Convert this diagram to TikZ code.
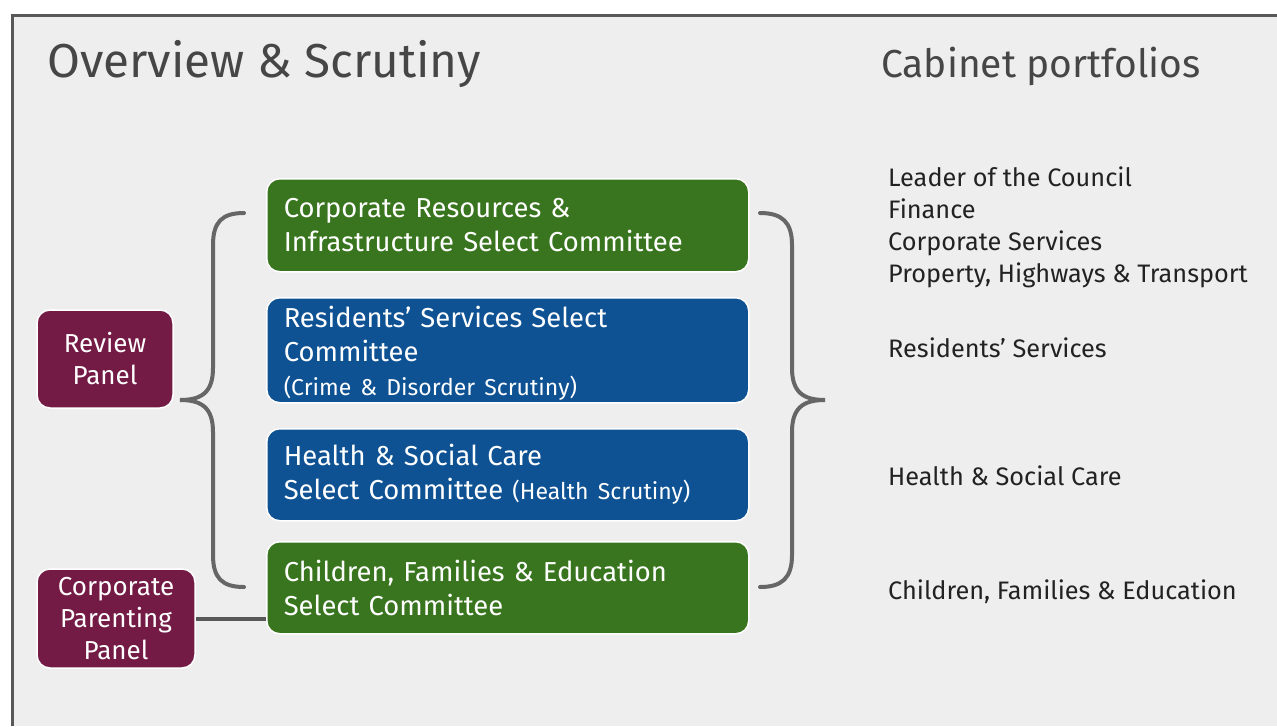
\documentclass[tikz,border=0pt]{standalone}
\usepackage{fontspec}
\setmainfont{Fira Sans}
\usepackage{xcolor}
\definecolor{selectgreen}{RGB}{56,117,30}
\definecolor{selectblue}{RGB}{14,82,148}
\definecolor{panelplum}{RGB}{115,27,69}
\definecolor{framegrey}{RGB}{88,88,88}
\definecolor{backgrey}{RGB}{238,238,238}
\definecolor{bracegrey}{RGB}{102,102,102}
\definecolor{inkgrey}{RGB}{34,34,34}
\definecolor{titlegrey}{RGB}{70,70,70}
\usetikzlibrary{positioning}
\tikzset{
  committee/.style={rectangle, rounded corners=13pt, draw=white, line width=1.5pt,
    anchor=north west, text=white, align=left, inner xsep=17pt, inner ysep=0pt,
    minimum width=482pt, text width=448pt, font=\fontsize{27.4}{34}\selectfont},
  panel/.style={rectangle, rounded corners=13pt, draw=white, line width=1.5pt,
    fill=panelplum, text=white, align=center, inner sep=0pt,
    font=\fontsize{26}{32}\selectfont},
  portfolio/.style={anchor=base west, text=inkgrey, inner sep=0pt,
    font=\fontsize{25.3}{32}\selectfont},
  heading/.style={anchor=base west, text=titlegrey, inner sep=0pt},
  brace/.style={bracegrey, line width=4pt, line cap=round}
}
\newcommand{\aside}[1]{{\fontsize{23}{33}\selectfont #1}}

\begin{document}
\begin{tikzpicture}[x=1pt,y=-1pt]
\useasboundingbox (0,0) rectangle (1277,726);
\fill[backgrey] (12,15) rectangle (1277,726);
\draw[framegrey, line width=3pt] (12,726) -- (12,15) -- (1277,15);

\node[heading, font=\fontsize{47.6}{52}\selectfont] (overview) at (47,77) {Overview \& Scrutiny};
\node[heading, font=\fontsize{39}{44}\selectfont] (cabinet) at (881,77) {Cabinet portfolios};

\node[committee, fill=selectgreen, minimum height=93pt] (resources) at (266,178)
  {Corporate Resources \&\\Infrastructure Select Committee};
\node[committee, fill=selectblue, minimum height=105pt] (residents) at (266,297)
  {\rule{0pt}{28pt}Residents’ Services Select\\Committee\\\aside{(Crime \& Disorder Scrutiny)}};
\node[committee, fill=selectblue, minimum height=92pt] (health) at (266,428)
  {Health \& Social Care\\Select Committee \aside{(Health Scrutiny)}};
\node[committee, fill=selectgreen, minimum height=92pt] (children) at (266,541)
  {Children, Families \& Education\\Select Committee};

\node[panel, minimum width=136pt, minimum height=98pt] (review) at (105,359) {Review\\Panel};
\node[panel, minimum width=158pt, minimum height=99pt] (parenting) at (116,618.5)
  {Corporate\\Parenting\\Panel};

\draw[framegrey, line width=4pt] (parenting.east) -- (parenting.east -| children.west);

\draw[brace] (244,213) .. controls (222,213) and (213,222) .. (213,245) -- (213,368)
  .. controls (213,392) and (202,400) .. (180,400)
  .. controls (202,400) and (213,408) .. (213,432) -- (213,555)
  .. controls (213,578) and (222,587) .. (244,587);
\draw[brace] (760,213) .. controls (782,213) and (792,222) .. (792,245) -- (792,368)
  .. controls (792,392) and (803,400) .. (825,400)
  .. controls (803,400) and (792,408) .. (792,432) -- (792,555)
  .. controls (792,578) and (782,587) .. (760,587);

\node[portfolio] (leader) at (888,186) {Leader of the Council};
\node[portfolio] (finance) at (888,218) {Finance};
\node[portfolio] (corporate) at (888,250) {Corporate Services};
\node[portfolio] (property) at (888,282) {Property, Highways \& Transport};
\node[portfolio] (residentsp) at (888,357) {Residents’ Services};
\node[portfolio] (healthp) at (888,485) {Health \& Social Care};
\node[portfolio] (childrenp) at (888,599) {Children, Families \& Education};
\end{tikzpicture}
\end{document}
